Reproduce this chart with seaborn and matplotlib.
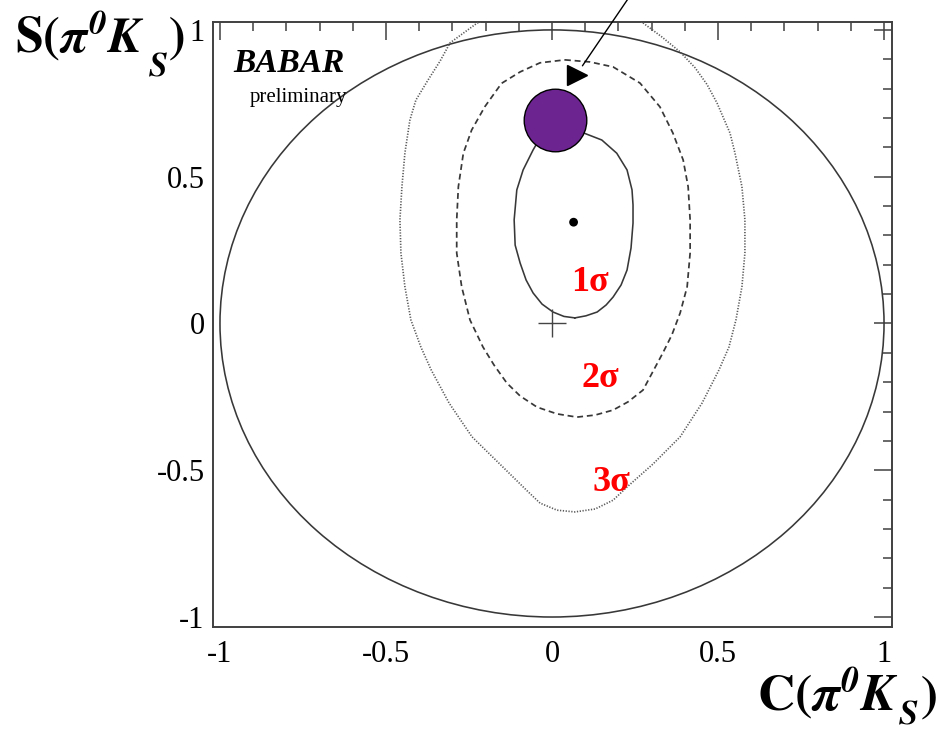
import numpy as np
import pandas as pd
import matplotlib
matplotlib.use("Agg")
import matplotlib.pyplot as plt
from matplotlib.patches import Circle
import seaborn as sns

# ---- axis ticks -------------------------------------------------------------
tick_values = [-1.0, -0.5, 0.0, 0.5, 1.0]
tick_labels = ["-1", "-0.5", "0", "0.5", "1"]

# ---- fit results ------------------------------------------------------------
best_fit_C, best_fit_S = 0.065, 0.345          # central value
sm_C, sm_S = 0.008, 0.693                      # expectation marker
origin_C, origin_S = 0.0, 0.0

# 1 sigma contour (C, S)
sig1_C = [0.069, 0.102, 0.136, 0.163, 0.184, 0.208, 0.226, 0.238, 0.244, 0.244,
          0.241, 0.226, 0.195, 0.150, 0.093, 0.024, -0.036, -0.057, -0.087,
          -0.106, -0.114, -0.111, -0.096, -0.078, -0.057, -0.030, 0.003, 0.036]
sig1_S = [0.019, 0.026, 0.039, 0.063, 0.090, 0.131, 0.182, 0.257, 0.342, 0.404,
          0.455, 0.523, 0.580, 0.625, 0.650, 0.659, 0.632, 0.591, 0.523,
          0.455, 0.353, 0.267, 0.206, 0.148, 0.104, 0.066, 0.039, 0.024]

# 2 sigma contour (C, S)
sig2_C = [0.039, 0.114, 0.184, 0.265, 0.325, 0.364, 0.395, 0.410, 0.416, 0.416,
          0.407, 0.386, 0.361, 0.334, 0.274, 0.229, 0.184, 0.130, 0.075, 0.015,
          -0.045, -0.096, -0.136, -0.175, -0.208, -0.247, -0.272, -0.287,
          -0.287, -0.282, -0.267, -0.242, -0.202, -0.152, -0.096, -0.036]
sig2_S = [0.898, 0.891, 0.874, 0.819, 0.738, 0.649, 0.557, 0.466, 0.353, 0.240,
          0.125, 0.036, -0.039, -0.100, -0.227, -0.267, -0.295, -0.312, -0.319, -0.308,
          -0.285, -0.247, -0.203, -0.141, -0.080, 0.012, 0.125, 0.240,
          0.353, 0.466, 0.580, 0.659, 0.739, 0.818, 0.857, 0.888]

# 3 sigma contour (C, S); the top part runs past S = 1
sig3_C = [0.274, 0.331, 0.386, 0.431, 0.467, 0.497, 0.536, 0.551, 0.572, 0.581,
          0.581, 0.572, 0.554, 0.533, 0.503, 0.452, 0.386, 0.304, 0.226, 0.184,
          0.130, 0.069, 0.015, -0.036, -0.075, -0.157, -0.241, -0.310, -0.364,
          -0.395, -0.425, -0.443, -0.455, -0.458, -0.452, -0.443, -0.428, -0.410,
          -0.373, -0.337, -0.307, -0.226, -0.150, 0.000, 0.150, 0.230]
sig3_S = [1.024, 0.976, 0.925, 0.871, 0.814, 0.751, 0.649, 0.581, 0.466, 0.353,
          0.240, 0.125, 0.012, -0.080, -0.158, -0.271, -0.386, -0.479, -0.557, -0.602,
          -0.632, -0.642, -0.636, -0.612, -0.570, -0.479, -0.386, -0.271, -0.158,
          -0.080, 0.012, 0.125, 0.240, 0.353, 0.466, 0.581, 0.693, 0.761,
          0.830, 0.894, 0.956, 1.023, 1.060, 1.090, 1.080, 1.050]

contour_labels = ["1σ", "2σ", "3σ"]
contour_label_C = [0.114, 0.145, 0.180]
contour_label_S = [0.140, -0.189, -0.542]

# ---- style ------------------------------------------------------------------
sns.set_theme(style="white")
plt.rcParams["font.family"] = ["Liberation Serif", "DejaVu Serif"]
plt.rcParams["mathtext.fontset"] = "stix"
plt.rcParams["axes.unicode_minus"] = False
plt.rcParams["text.color"] = "black"

W, H = 953, 734
fig = plt.figure(figsize=(W / 100, H / 100), dpi=100)
ax = fig.add_axes([213 / W, 107 / H, 679 / W, 605 / H])
ax.set_xlim(-1.021, 1.024)
ax.set_ylim(-1.034, 1.027)


def closed(c, s):
    return pd.DataFrame({"C": np.r_[c, c[:1]], "S": np.r_[s, s[:1]]})


# physical boundary C^2 + S^2 = 1
ax.add_patch(Circle((0, 0), 1.0, fill=False, ec="#383838", lw=1.15, zorder=2))

sns.lineplot(data=closed(sig3_C, sig3_S), x="C", y="S", sort=False, estimator=None,
             ax=ax, color="#5a5a5a", lw=1.2, linestyle=(0, (0.75, 0.95)), zorder=3)
sns.lineplot(data=closed(sig2_C, sig2_S), x="C", y="S", sort=False, estimator=None,
             ax=ax, color="#383838", lw=1.25, linestyle=(0, (3.4, 2.2)), zorder=3)
sns.lineplot(data=closed(sig1_C, sig1_S), x="C", y="S", sort=False, estimator=None,
             ax=ax, color="#383838", lw=1.15, zorder=3)

# best fit point and origin cross
sns.scatterplot(x=[best_fit_C], y=[best_fit_S], ax=ax, color="black", s=40,
                edgecolor="none", zorder=5)
ax.plot([origin_C], [origin_S], marker="+", ms=20, mew=1.0, color="#444444", zorder=4)

# expectation marker
sns.scatterplot(x=[sm_C], y=[sm_S], ax=ax, color="#6B2490", s=2030,
                edgecolor="black", linewidth=1.0, zorder=6)

# pointer from the top of the page
ax.annotate("", xy=(0.087, 0.870), xytext=(0.247, 1.136),
            arrowprops=dict(arrowstyle="-", color="black", lw=1.0),
            annotation_clip=False, zorder=7)
ax.plot([0.074], [0.845], marker=">", ms=14, color="black", mec="black", zorder=7,
        clip_on=False)

for lab, c, s in zip(contour_labels, contour_label_C, contour_label_S):
    ax.text(c, s, lab, color="red", fontsize=26, fontweight="bold",
            ha="center", va="center", zorder=8)

# experiment tag
fig.text(233 / W, 1 - 72 / H, "BABAR", fontsize=24, fontweight="bold",
         fontstyle="italic", ha="left", va="baseline", color="black")
fig.text(298 / W, 1 - 102 / H, "preliminary", fontsize=15, ha="center",
         va="baseline", color="black")

# ---- axes -------------------------------------------------------------------
ax.set_xticks(tick_values, labels=tick_labels)
ax.set_yticks(tick_values, labels=tick_labels)
ax.set_xticks(np.arange(-1.0, 1.01, 0.1), minor=True)
ax.set_yticks(np.arange(-1.0, 1.01, 0.1), minor=True)
ax.tick_params(which="both", direction="in", top=True, right=True,
               color="#404040", width=1.1, labelcolor="black")
ax.tick_params(which="major", length=13, labelsize=22)
ax.tick_params(which="minor", length=6.5)
ax.tick_params(axis="x", which="major", pad=9)
ax.tick_params(axis="y", which="major", pad=6)
for sp in ax.spines.values():
    sp.set_color("#404040")
    sp.set_linewidth(1.4)
ax.set_xlabel("")
ax.set_ylabel("")


def axis_title(x0, base, head, x_sub, sub_drop, x_close, size):
    """Bold title with a lowered subscript S and closing parenthesis."""
    fig.text(x0 / W, 1 - base / H,
             r"$\mathbf{" + head + r"(}\mathbfit{\pi}^{\mathbfit{0}}\mathbfit{K}$",
             fontsize=size, ha="left", va="baseline", color="black")
    fig.text(x_sub / W, 1 - (base + sub_drop) / H, r"$\mathbfit{S}$",
             fontsize=size * 0.68, ha="left", va="baseline", color="black")
    fig.text(x_close / W, 1 - base / H, r"$\mathbf{)}$",
             fontsize=size, ha="left", va="baseline", color="black")


axis_title(15, 52, "S", 148, 23, 168, 36)
axis_title(757, 711, "C", 898, 12, 920, 37)

fig.savefig("out.png", dpi=100)
